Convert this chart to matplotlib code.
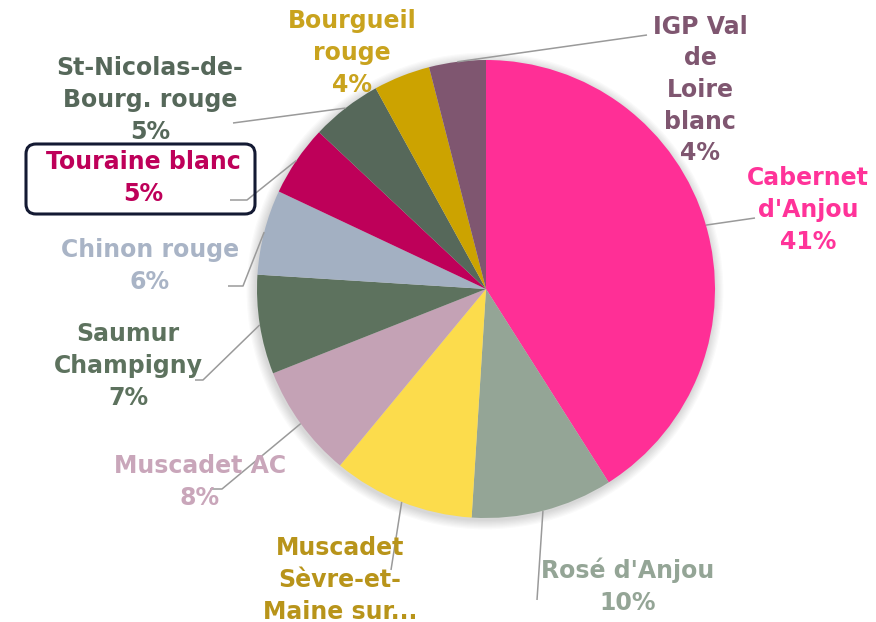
import numpy as np
import matplotlib
matplotlib.use("Agg")
import matplotlib.pyplot as plt
from matplotlib.patches import Circle, FancyBboxPatch

# data, clockwise from 12 o'clock
labels = ["Cabernet\nd'Anjou", "Rosé d'Anjou", "Muscadet\nSèvre-et-\nMaine sur...",
          "Muscadet AC", "Saumur\nChampigny", "Chinon rouge", "Touraine blanc",
          "St-Nicolas-de-\nBourg. rouge", "Bourgueil\nrouge", "IGP Val\nde\nLoire\nblanc"]
shares = [41, 10, 10, 8, 7, 6, 5, 5, 4, 4]
show_pct = [True, True, False, True, True, True, True, True, True, True]

wedge_colors = ["#FF2F96", "#94A596", "#FCDC4C", "#C4A2B5", "#5D725E",
                "#A3B0C2", "#BE0059", "#56685A", "#CCA300", "#7F5670"]
text_colors = ["#FF3399", "#94A596", "#B8941A", "#C9A6BA", "#5D725E",
               "#A9B4C6", "#BE0059", "#56685A", "#C9A31E", "#7F5670"]

# label layout (pixel coords, y down): text centre, elbow point, line end
text_pos = [(808, 210), (628, 586), (340, 580), (200, 482), (128, 366),
            (150, 266), (143, 178), (150, 100), (352, 53), (700, 90)]
elbow = [(755, 218), (537, 600), (391, 570), (222, 489), (203, 380),
         (243, 286), (247, 200), (233, 123), None, (647, 35)]
line_end = [(755, 218), (537, 600), (391, 570), (210, 489), (195, 380),
            (228, 286), (230, 200), (233, 123), None, (647, 35)]

W, H = 876, 622
fig = plt.figure(figsize=(W / 100, H / 100), dpi=100)
ax = fig.add_axes((0, 0, 1, 1))

cx, cy, r = 486, H - 289, 229

# soft shadow
for k in range(8):
    ax.add_patch(Circle((cx - 1, cy - 2), r + 1 + k * 1.2, color="black",
                        alpha=0.018, lw=0, zorder=0))

wedges, _ = ax.pie(shares, colors=wedge_colors, startangle=90, counterclock=False,
                   center=(cx, cy), radius=r, wedgeprops=dict(linewidth=0))
ax.set_xlim(0, W)
ax.set_ylim(0, H)
ax.set_aspect("equal")
ax.axis("off")

for i, w in enumerate(wedges):
    ang = np.deg2rad((w.theta1 + w.theta2) / 2)
    sx, sy = cx + r * np.cos(ang), cy + r * np.sin(ang)
    if elbow[i] is not None:
        ex, ey = elbow[i]
        lx, ly = line_end[i]
        ax.plot([sx, ex, lx], [sy, H - ey, H - ly], color="#9a9a9a", lw=1.1,
                solid_capstyle="butt", zorder=3)
    txt = labels[i] + ("\n%d%%" % shares[i] if show_pct[i] else "")
    tx, ty = text_pos[i]
    ax.text(tx, H - ty, txt, ha="center", va="center", color=text_colors[i],
            fontsize=17, fontweight="bold", family="DejaVu Sans",
            linespacing=1.4, zorder=4)

# highlight box round Touraine blanc
ax.add_patch(FancyBboxPatch((26, H - 214), 229, 70,
                            boxstyle="round,pad=0,rounding_size=10",
                            fc="none", ec="#141A33", lw=2.2, zorder=5))

fig.savefig("out.png", dpi=100)
